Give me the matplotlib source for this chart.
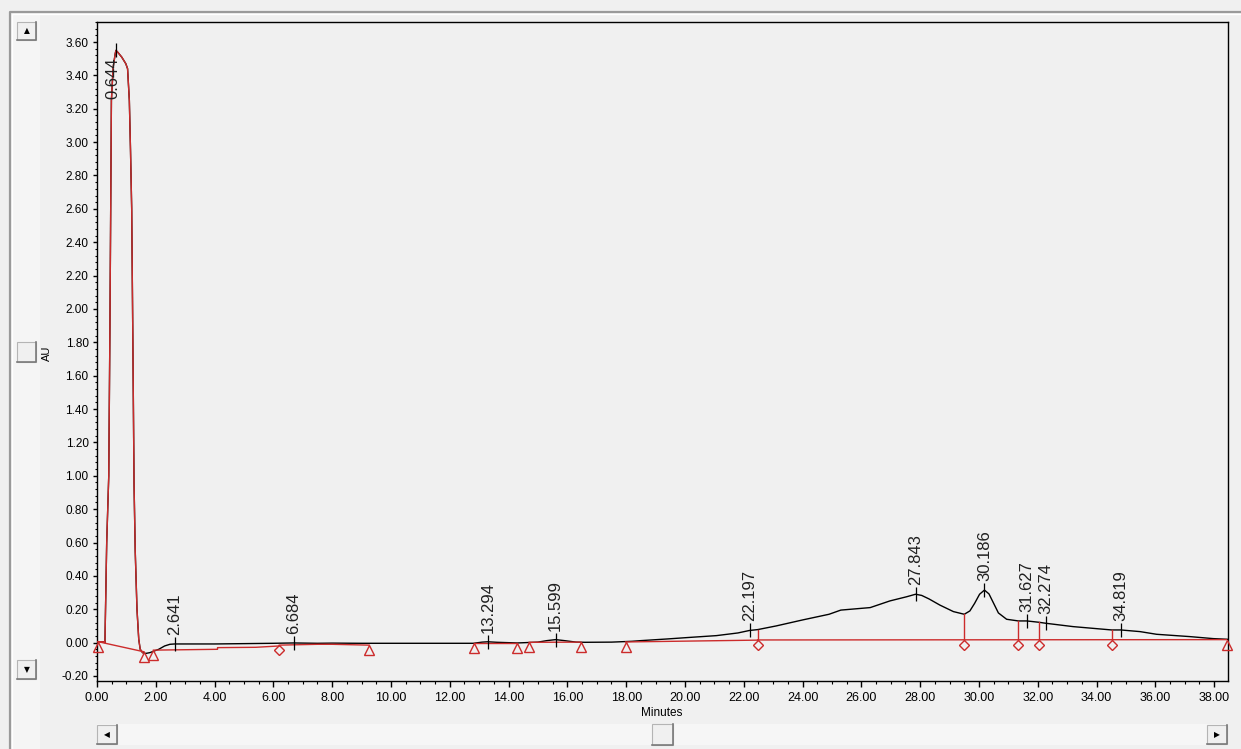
import numpy as np
import matplotlib
matplotlib.use("Agg")
import matplotlib.pyplot as plt
from matplotlib.patches import Rectangle
from matplotlib.lines import Line2D
from matplotlib.ticker import MultipleLocator, FormatStrFormatter
import matplotlib.transforms as mtransforms

plt.rcParams["font.family"] = ["Liberation Sans", "DejaVu Sans"]

# detector trace (minutes, AU)
trace_min = [0.00, 0.25, 0.27, 0.33, 0.40, 0.44, 0.49, 0.55, 0.62, 0.644, 0.70,
             0.84, 0.98, 1.04, 1.10, 1.14, 1.18, 1.22, 1.26, 1.30, 1.36, 1.42,
             1.47, 1.55, 1.65, 1.80, 1.95, 2.10, 2.30, 2.48, 2.641, 3.00, 4.00,
             5.00, 6.00, 6.684, 7.50, 8.00, 9.00, 10.00, 11.00, 12.00, 12.80,
             13.10, 13.294, 13.60, 14.30, 15.00, 15.30, 15.599, 15.90, 16.30,
             16.60, 17.50, 18.20, 18.50, 19.40, 20.05, 21.07, 21.80, 22.197,
             22.47, 23.10, 24.00, 24.90, 25.30, 26.30, 26.97, 27.54, 27.843,
             28.05, 28.30, 28.67, 29.13, 29.50, 29.69, 29.85, 30.02, 30.186,
             30.34, 30.50, 30.66, 30.94, 31.34, 31.627, 32.04, 32.274, 33.20,
             34.51, 34.819, 35.48, 36.04, 37.18, 37.97, 38.46]
trace_au = [0.005, 0.005, 0.000, 0.600, 1.000, 1.900, 3.250, 3.450, 3.530, 3.550,
            3.540, 3.510, 3.470, 3.440, 3.250, 2.950, 2.600, 1.800, 0.950, 0.550,
            0.200, 0.020, -0.040, -0.060, -0.065, -0.060, -0.050, -0.040, -0.020,
            -0.010, -0.008, -0.008, -0.008, -0.006, -0.004, -0.002, -0.004, -0.003,
            -0.004, -0.004, -0.004, -0.004, -0.004, 0.003, 0.005, 0.002, -0.002,
            0.003, 0.012, 0.018, 0.012, 0.003, 0.002, 0.003, 0.008, 0.012, 0.022,
            0.030, 0.042, 0.058, 0.073, 0.078, 0.100, 0.136, 0.170, 0.195, 0.210,
            0.250, 0.275, 0.290, 0.283, 0.262, 0.225, 0.186, 0.170, 0.190, 0.235,
            0.290, 0.315, 0.292, 0.235, 0.178, 0.140, 0.130, 0.130, 0.122, 0.116,
            0.096, 0.076, 0.076, 0.066, 0.050, 0.036, 0.024, 0.020]

# integration baselines, one list per segment
base_min = [[0.03, 1.60],
            [1.92, 4.10, 4.10, 5.40, 6.20],
            [6.20, 7.50, 8.00, 9.26],
            [12.82, 14.27],
            [14.70, 16.46],
            [17.98, 22.47],
            [22.47, 38.42]]
base_au = [[0.006, -0.055],
           [-0.045, -0.040, -0.030, -0.028, -0.020],
           [-0.015, -0.010, -0.010, -0.015],
           [-0.002, -0.002],
           [0.002, 0.003],
           [0.004, 0.015],
           [0.016, 0.018]]

# peak start/end marks
tri_min = [0.03, 1.60, 1.92, 9.26, 12.82, 14.27, 14.70, 16.46, 17.98, 38.42]
tri_au = [0.006, -0.055, -0.045, -0.015, -0.002, -0.002, 0.002, 0.003, 0.004, 0.018]
dia_min = [6.20, 22.47, 29.50, 31.34, 32.04, 34.51]
dia_au = [-0.015, 0.015, 0.016, 0.016, 0.017, 0.017]

# dropped perpendiculars between unresolved peaks
drop_min = [22.47, 29.50, 31.34, 32.04, 34.51]

peak_labels = ["0.644", "2.641", "6.684", "13.294", "15.599", "22.197",
               "27.843", "30.186", "31.627", "32.274", "34.819"]

W, H = 1241, 749
RED = "#cc2b2b"
BG = "#f0f0f0"


def fx(px):
    return px / W


def fy(py):
    return 1 - py / H


def box(x0, y0, x1, y1, fc, ec="#a0a0a0", lw=1.0):
    fig.add_artist(Rectangle((fx(x0), fy(y1)), fx(x1) - fx(x0), fy(y0) - fy(y1),
                             transform=fig.transFigure, fc=fc, ec=ec, lw=lw))


def button(x0, y0, x1, y1, arrow=None):
    box(x0, y0, x1, y1, "#f0f0f0", ec="#b4b4b4", lw=0.8)
    # dark bottom / right edge
    fig.add_artist(Line2D([fx(x0), fx(x1), fx(x1)], [fy(y1), fy(y1), fy(y0)],
                          transform=fig.transFigure, color="#7a7a7a", lw=1.2))
    if arrow:
        fig.text(fx((x0 + x1) / 2), fy((y0 + y1) / 2), arrow, fontsize=5.5,
                 ha="center", va="center", color="black",
                 family=["DejaVu Sans"])


fig = plt.figure(figsize=(W / 100, H / 100), dpi=100)
fig.patch.set_facecolor(BG)

# window frame and scroll bars
fig.add_artist(Line2D([fx(10), fx(10), fx(W)], [fy(H), fy(12), fy(12)],
                      transform=fig.transFigure, color="#9a9a9a", lw=1.6))
fig.add_artist(Line2D([fx(12), fx(12), fx(W)], [fy(H), fy(14), fy(14)],
                      transform=fig.transFigure, color="white", lw=1.0))
box(13, 15, 40, H, "#f5f5f5", ec="none")
box(97, 724, 1228, 745, "#f6f6f6", ec="none")
button(17, 22, 36, 40, "▲")
button(17, 342, 36, 362)
button(17, 660, 36, 679, "▼")
button(97, 725, 117, 744, "◀")
button(652, 724, 673, 745)
button(1207, 725, 1227, 744, "▶")

ax = fig.add_axes([fx(97), fy(681), fx(1228) - fx(97), fy(22) - fy(681)])
ax.set_facecolor(BG)

t = np.array(trace_min)
au = np.array(trace_au)
ax.plot(t, au, color="black", lw=1.0, zorder=3)

# first peak outline drawn in red
first = t <= 1.60
ax.plot(t[first], au[first], color=RED, lw=1.0, zorder=4)

for bm, ba in zip(base_min, base_au):
    ax.plot(bm, ba, color=RED, lw=1.0, zorder=4)

for d in drop_min:
    b = np.interp(d, base_min[-1], base_au[-1])
    ax.plot([d, d], [b, np.interp(d, t, au)], color=RED, lw=1.0, zorder=4)

shift = mtransforms.offset_copy(ax.transData, fig=fig, x=0, y=-5, units="dots")
ax.plot(tri_min, tri_au, ls="none", marker="^", ms=7, mfc="none", mec=RED,
        mew=1.0, transform=shift, zorder=5, clip_on=False)
ax.plot(dia_min, dia_au, ls="none", marker="D", ms=5.5, mfc="none", mec=RED,
        mew=1.0, transform=shift, zorder=5)

# apex ticks and retention time labels
for lab in peak_labels:
    rt = float(lab)
    top = np.interp(rt, t, au)
    ax.plot([rt], [top], marker="|", ms=10, mew=0.9, color="black", zorder=6)
    if rt < 1:
        tr = mtransforms.offset_copy(ax.transData, fig=fig, x=-3, y=-7, units="dots")
        ax.text(rt, top, lab, rotation=90, ha="center", va="top", fontsize=12,
                color="#202020", transform=tr, zorder=6)
    else:
        tr = mtransforms.offset_copy(ax.transData, fig=fig, x=0, y=9, units="dots")
        ax.text(rt, top, lab, rotation=90, ha="center", va="bottom", fontsize=12,
                color="#202020", transform=tr, zorder=6)

ax.set_xlim(0, 38.47)
ax.set_ylim(-0.23, 3.72)
ax.xaxis.set_major_locator(MultipleLocator(2))
ax.xaxis.set_minor_locator(MultipleLocator(0.5))
ax.yaxis.set_major_locator(MultipleLocator(0.2))
ax.yaxis.set_minor_locator(MultipleLocator(0.04))
ax.xaxis.set_major_formatter(FormatStrFormatter("%.2f"))
ax.yaxis.set_major_formatter(FormatStrFormatter("%.2f"))
ax.tick_params(axis="x", which="major", direction="out", length=4, width=1,
               labelsize=9, pad=4, colors="black")
ax.tick_params(axis="y", which="major", direction="out", length=3, width=1,
               labelsize=8.5, pad=3, colors="black")
ax.tick_params(which="minor", direction="out", length=1.8, width=0.8)
for s in ax.spines.values():
    s.set_color("black")
    s.set_linewidth(1.0)

fig.text(fx(47), fy(353), "AU", rotation=90, ha="center", va="center", fontsize=8)
fig.text(fx(662), fy(713), "Minutes", ha="center", va="center", fontsize=8.5)

fig.savefig("out.png", dpi=100, facecolor=BG)
